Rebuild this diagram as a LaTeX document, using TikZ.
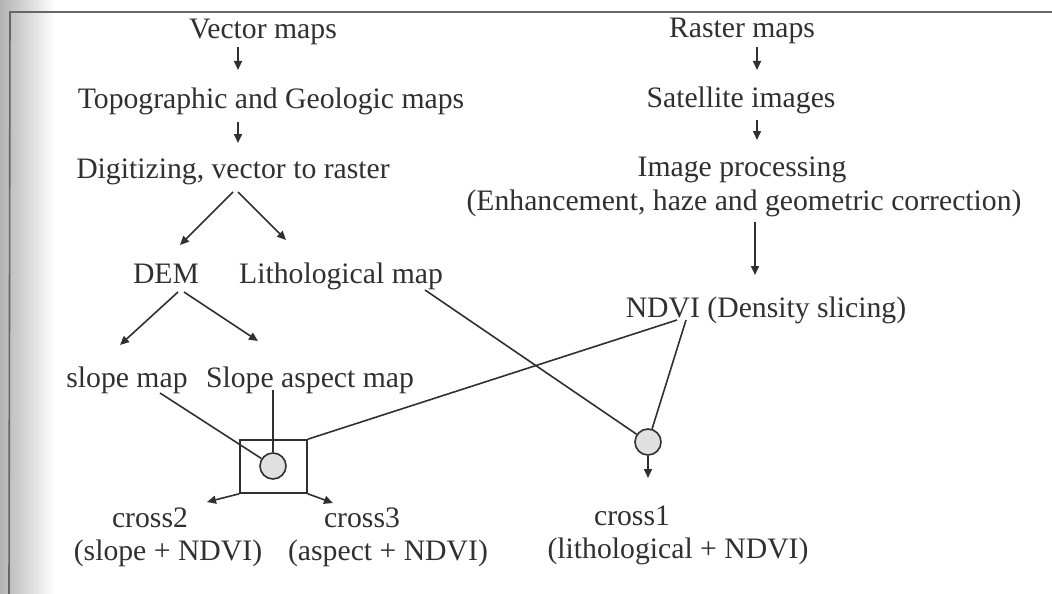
\documentclass[tikz,border=0pt]{standalone}
\usepackage{fontspec}
\setmainfont{Liberation Serif}
\usetikzlibrary{arrows.meta,calc}
\definecolor{ink}{HTML}{303030}
\begin{document}
\begin{tikzpicture}[x=1pt,y=-1pt,
  lbl/.style={anchor=base,inner sep=0pt,text=ink,font=\fontsize{29.7}{34}\selectfont},
  conn/.style={draw=ink,line width=1.6pt},
  arr/.style={conn,-{Triangle[length=9pt,width=8pt]}},
  joint/.style={circle,draw=ink,line width=1.6pt,fill=black!12,minimum size=26pt,inner sep=0pt},
  frame/.style={draw=black!60,line width=1.6pt}]
\useasboundingbox (0,0) rectangle (1052,594);
\fill[left color=black!30,right color=white] (0,0) rectangle (55,594);
\draw[frame] (1052,12) -- (10,12) -- (9,594);
% left column
\node[lbl] (vm) at (263,39) {Vector maps};
\node[lbl] (topo) at (271,108) {Topographic and Geologic maps};
\node[lbl] (dig) at (233,178) {Digitizing, vector to raster};
\node[lbl] (dem) at (166,283) {DEM};
\node[lbl] (lith) at (341,283) {Lithological map};
\node[lbl] (slope) at (127,387) {slope map};
\node[lbl] (aspect) at (310,387) {Slope aspect map};
\node[lbl] (cross2) at (150,527) {cross2};
\node[lbl] (c2l) at (168,560) {(slope + NDVI)};
\node[lbl] (cross3) at (362,527) {cross3};
\node[lbl] (c3l) at (388,560) {(aspect + NDVI)};
% right column
\node[lbl] (rm) at (742,38) {Raster maps};
\node[lbl] (sat) at (741,107) {Satellite images};
\node[lbl] (ip) at (742,176) {Image processing};
\node[lbl] (enh) at (744,210) {(Enhancement, haze and geometric correction)};
\node[lbl] (ndvi) at (766,317) {NDVI (Density slicing)};
\node[lbl] (cross1) at (632,525) {cross1};
\node[lbl] (c1l) at (678,558) {(lithological + NDVI)};
% overlay box and joints
\node[draw=ink,line width=1.6pt,minimum width=67pt,minimum height=53pt,inner sep=0pt] (box) at (273.5,466.5) {};
\node[joint] (j2) at (273,466) {};
\node[joint] (j1) at (648,442) {};
% connectors left
\draw[arr] ($(vm.base)+(-25,8)$) -- ($(topo.base)+(-33,-38)$);
\draw[arr] ($(topo.base)+(-33,14)$) -- ($(dig.base)+(5,-35)$);
\draw[arr] ($(dig.base)+(0,14)$) -- ($(dem.base)+(14,-38)$);
\draw[arr] ($(dig.base)+(5,14)$) -- ($(lith.base)+(-55,-43)$);
\draw[arr] ($(dem.base)+(12,9)$) -- ($(slope.base)+(-7,-42)$);
\draw[arr] ($(dem.base)+(18,9)$) -- ($(aspect.base)+(-52,-46)$);
\draw[conn] ($(slope.base)+(33,6)$) -- (j2);
\draw[conn] ($(aspect.base)+(-37,3)$) -- (j2.north);
\draw[conn] ($(ndvi.base)+(-89,3)$) -- (box.north east);
\draw[conn] ($(lith.base)+(84,7)$) -- (j1);
\draw[conn] ($(ndvi.base)+(-80,3)$) -- (j1);
\draw[arr] (j1.south) -- ($(cross1.base)+(16,-47)$);
\draw[arr] (box.south west) -- ($(cross2.base)+(57,-25)$);
\draw[arr] (box.south east) -- ($(cross3.base)+(-29,-24)$);
% connectors right
\draw[arr] ($(rm.base)+(15,9)$) -- ($(sat.base)+(16,-37)$);
\draw[arr] ($(sat.base)+(16,13)$) -- ($(ip.base)+(15,-36)$);
\draw[arr] ($(enh.base)+(11,12)$) -- ($(ndvi.base)+(-11,-42)$);
\end{tikzpicture}
\end{document}
